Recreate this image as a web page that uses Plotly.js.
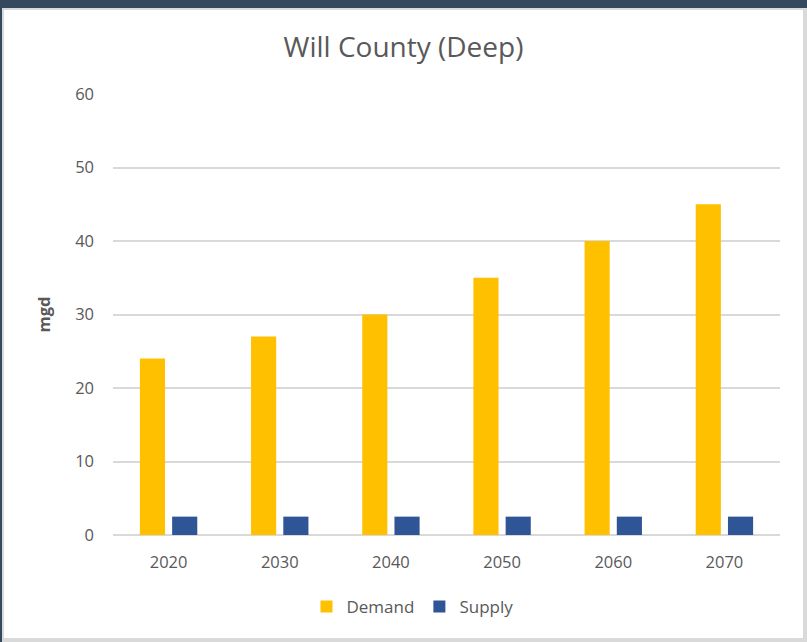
<!DOCTYPE html>
<html>
<head>
<meta charset="utf-8">
<script src="https://cdn.plot.ly/plotly-3.0.1.min.js"></script>
<style>
  html, body { margin: 0; padding: 0; width: 807px; height: 642px; overflow: hidden; background: #34495e; }
  #frame { position: absolute; left: 2px; top: 8px; width: 805px; height: 634px; background: #d9d9d9; }
  #chart { position: absolute; left: 4px; top: 10px; width: 799px; height: 628px; background: #ffffff; }
</style>
</head>
<body>
<div id="frame"></div>
<div id="chart"></div>
<script>
const years = ['2020', '2030', '2040', '2050', '2060', '2070'];
const demand = [24, 27, 30, 35, 40, 45];
const supply = [2.5, 2.5, 2.5, 2.5, 2.5, 2.5];

const font = '"Open Sans", "Noto Sans", sans-serif';

const traces = [
  { type: 'bar', name: 'Demand', x: years, y: demand, marker: { color: '#ffc000' }, hoverinfo: 'x+y' },
  { type: 'bar', name: 'Supply', x: years, y: supply, marker: { color: '#2f5597' }, hoverinfo: 'x+y' }
];

const layout = {
  width: 799, height: 628,
  paper_bgcolor: '#ffffff', plot_bgcolor: '#ffffff',
  margin: { l: 109, r: 23, t: 84, b: 103 },
  font: { family: font, color: '#595959', size: 16 },
  title: { text: 'Will County (Deep)', font: { family: font, size: 28, color: '#595959' }, x: 0.5, xanchor: 'center', y: 1 - 37/628, yanchor: 'middle' },
  barmode: 'group', bargap: 0.42, bargroupgap: 0.22,
  xaxis: { type: 'category', showgrid: false, zeroline: false, showline: false, ticks: '', ticklabelstandoff: 15, tickfont: { size: 16.5, color: '#595959' } },
  yaxis: { range: [0, 60], dtick: 10, showgrid: true, gridcolor: '#d9d9d9', gridwidth: 2, zeroline: true, zerolinecolor: '#d9d9d9', zerolinewidth: 2, showline: false, ticks: '', ticklabelstandoff: 18, tickfont: { size: 16.5, color: '#595959' },
           title: { text: '<b>mgd</b>', standoff: 20, font: { size: 16.5, color: '#595959' } } },
  legend: { orientation: 'h', x: 0.449, xanchor: 'center', y: -0.163, yanchor: 'middle', font: { size: 17, color: '#595959' }, itemwidth: 30, traceorder: 'normal' },
  showlegend: true
};

Plotly.newPlot('chart', traces, layout, { displayModeBar: false, staticPlot: true });
</script>
</body>
</html>
